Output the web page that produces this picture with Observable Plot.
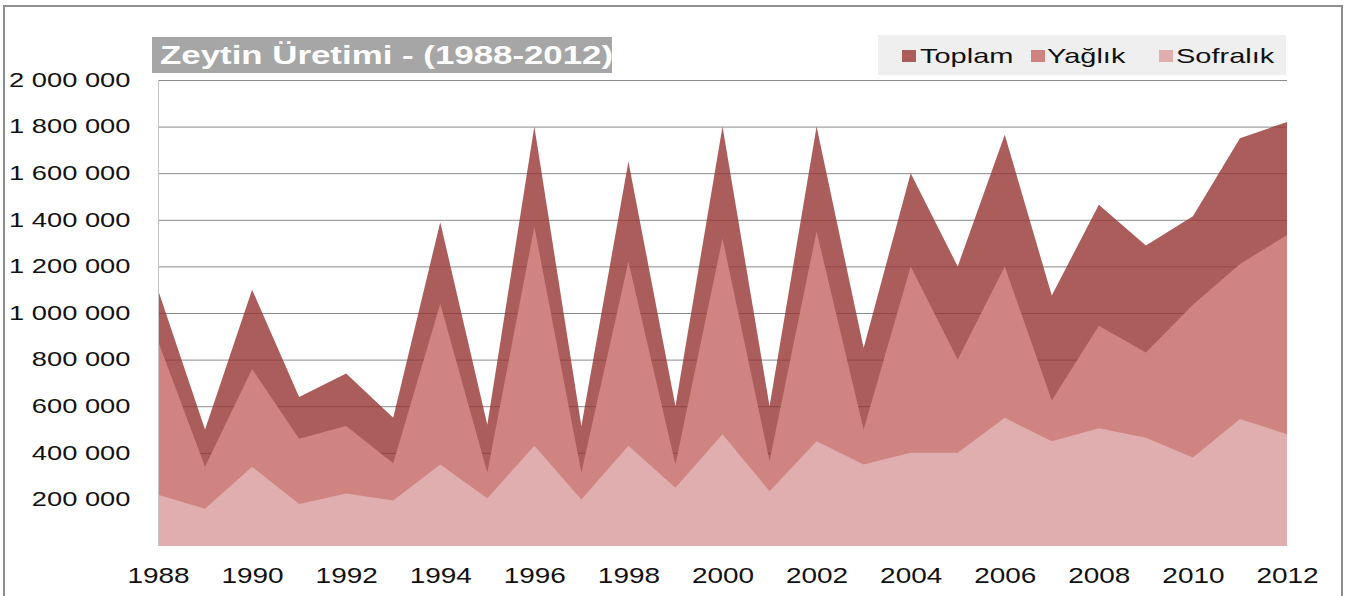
<!DOCTYPE html>
<html>
<head>
<meta charset="utf-8">
<script src="https://cdn.jsdelivr.net/npm/d3@7"></script>
<script src="https://cdn.jsdelivr.net/npm/@observablehq/plot@0.6"></script>
<style>
  body { margin: 0; background: #fff; }
  #wrap { position: relative; width: 1354px; height: 596px; overflow: hidden; font-family: "Liberation Sans", Arial, sans-serif; }
  #wrap svg { position: absolute; left: 0; top: 0; }
  #frame { position: absolute; left: 3px; top: 5px; width: 1340px; height: 640px; border: 2px solid #8e8e8e; box-sizing: border-box; pointer-events: none; }
  #title { position: absolute; left: 152px; top: 37px; width: 460px; height: 36px; background: #a6a6a6; }
  #title span { position: absolute; left: 8px; top: 0; line-height: 36px; color: #fff; font-weight: bold; font-size: 26px; white-space: nowrap; transform: scaleX(1.34); transform-origin: 0 50%; }
  #legend { position: absolute; left: 878px; top: 35px; width: 408px; height: 40px; background: #efefef; }
  .sw { position: absolute; top: 15px; width: 14px; height: 12px; }
  .lt { position: absolute; top: 1px; line-height: 40px; font-size: 21px; color: #111; white-space: nowrap; transform: scaleX(1.38); transform-origin: 0 50%; }
</style>
</head>
<body>
<div id="wrap"></div>
<script>
// ---- data ----
const years = [1988, 1989, 1990, 1991, 1992, 1993, 1994, 1995, 1996, 1997, 1998, 1999, 2000,
               2001, 2002, 2003, 2004, 2005, 2006, 2007, 2008, 2009, 2010, 2011, 2012];
const toplam = [1100000, 500000, 1100000, 640000, 740000, 550000, 1390000, 520000, 1800000, 515000,
                1650000, 600000, 1800000, 600000, 1800000, 850000, 1600000, 1200000, 1765000, 1075000,
                1465000, 1290000, 1415000, 1750000, 1820000];
const yaglik = [880000, 340000, 760000, 460000, 515000, 355000, 1040000, 315000, 1370000, 315000,
                1220000, 350000, 1320000, 365000, 1350000, 500000, 1200000, 800000, 1200000, 625000,
                945000, 830000, 1035000, 1210000, 1335000];
const sofralik = [220000, 160000, 340000, 180000, 225000, 195000, 350000, 205000, 430000, 200000,
                  430000, 250000, 480000, 235000, 450000, 350000, 400000, 400000, 550000, 450000,
                  505000, 465000, 380000, 545000, 480000];
const seriesNames = ["Toplam", "Yağlık", "Sofralık"];
const seriesColors = ["#aa5d5b", "#cf8481", "#e0aeae"];
const xTicks = [1988, 1990, 1992, 1994, 1996, 1998, 2000, 2002, 2004, 2006, 2008, 2010, 2012];
const yTicks = [200000, 400000, 600000, 800000, 1000000, 1200000, 1400000, 1600000, 1800000, 2000000];
const titleText = "Zeytin Üretimi - (1988-2012)";

const data = years.map((year, i) => ({year, toplam: toplam[i], yaglik: yaglik[i], sofralik: sofralik[i]}));
const fmt = d => d3.format(",")(d).replace(/,/g, " ");

const plot = Plot.plot({
  width: 1354,
  height: 596,
  marginLeft: 158,
  marginRight: 67,
  marginTop: 80,
  marginBottom: 50,
  style: {fontFamily: '"Liberation Sans", Arial, sans-serif', background: "transparent", overflow: "visible", color: "#111"},
  x: {domain: [1988, 2012], label: null},
  y: {domain: [0, 2000000], label: null},
  marks: [
    Plot.ruleY(yTicks, {stroke: "#8a8a8a", strokeWidth: 1}),
    Plot.areaY(data, {x: "year", y1: 0, y2: "toplam", fill: "#953432", fillOpacity: 0.8}),
    Plot.areaY(data, {x: "year", y1: 0, y2: "yaglik", fill: seriesColors[1]}),
    Plot.areaY(data, {x: "year", y1: 0, y2: "sofralik", fill: seriesColors[2]}),
    Plot.ruleX([1988], {y1: 0, y2: 2000000, stroke: "#c4c4c4"}),
    Plot.axisY({ticks: yTicks, tickFormat: fmt, tickSize: 0, tickPadding: 28, fontSize: 19.5, label: null, fill: "#111"}),
    Plot.axisX({ticks: xTicks, tickFormat: d => String(d), tickSize: 0, tickPadding: 21, fontSize: 22, label: null, fill: "#111"})
  ]
});

// horizontal stretch of the axis text to match the reference's wide lettering
function stretch(sel, s) {
  plot.querySelectorAll(sel).forEach(t => {
    let tr = t.getAttribute("transform") || "";
    const xa = t.getAttribute("x");
    if (xa != null && !/em$/.test(xa)) {
      t.removeAttribute("x");
      tr += ` translate(${parseFloat(xa) || 0},0)`;
    }
    t.setAttribute("transform", tr + ` scale(${s},1)`);
  });
}
stretch('[aria-label="y-axis tick label"] text', 1.4);
stretch('[aria-label="x-axis tick label"] text', 1.27);

const wrap = document.getElementById("wrap");
wrap.appendChild(plot);

const frame = document.createElement("div");
frame.id = "frame";
wrap.appendChild(frame);

const title = document.createElement("div");
title.id = "title";
const ts = document.createElement("span");
ts.textContent = titleText;
title.appendChild(ts);
wrap.appendChild(title);

const legend = document.createElement("div");
legend.id = "legend";
const swLeft = [24, 153, 281];
const txLeft = [42, 169, 298];
seriesNames.forEach((name, i) => {
  const sw = document.createElement("div");
  sw.className = "sw";
  sw.style.left = swLeft[i] + "px";
  sw.style.background = seriesColors[i];
  legend.appendChild(sw);
  const tx = document.createElement("div");
  tx.className = "lt";
  tx.style.left = txLeft[i] + "px";
  tx.textContent = name;
  legend.appendChild(tx);
});
wrap.appendChild(legend);
</script>
</body>
</html>
